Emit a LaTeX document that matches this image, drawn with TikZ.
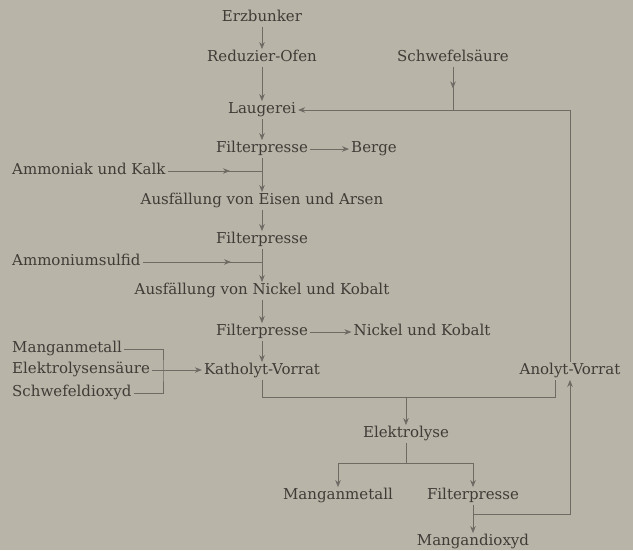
\documentclass[tikz,border=0pt]{standalone}
\usepackage{fontspec}
\setmainfont{DejaVu Serif}
\usepackage{tikz}
\usetikzlibrary{
  arrows.meta,
  positioning,
  decorations.markings
}
\definecolor{PaperGrey}{HTML}{B9B4A8}
\definecolor{InkDark}{HTML}{403B36}
\definecolor{LineGrey}{HTML}{6F6A63}
\tikzset{
  % Stage / material label
  stage/.style={
    text=InkDark, inner sep=2pt,
    text height=10.5pt, text depth=3pt,
    font=\fontsize{15}{17}\selectfont
  },
  % Plain connector
  ln/.style={line width=0.7pt, draw=LineGrey},
  % Arrow
  arr/.style={
    -{Stealth[length=7pt,width=5.5pt]},
    line width=0.7pt, draw=LineGrey, color=LineGrey
  },
  % Line with arrow head in its course
  midarr/.style={
    ln, postaction={decorate},
    decoration={markings,
      mark=at position #1 with {\arrow[LineGrey]{Stealth[length=7pt,width=5.5pt]}}}
  }
}

\begin{document}
\begin{tikzpicture}[x=1pt, y=-1pt, on grid]
  \fill[PaperGrey] (0,0) rectangle (633,550);
  \useasboundingbox (0,0) rectangle (633,550);

  % Main line of the process
  \node[stage] (erz) at (262,18) {Erzbunker};
  \node[stage, below=40pt of erz]   (ofen)  {Reduzier-Ofen};
  \node[stage, below=52pt of ofen]  (laug)  {Laugerei};
  \node[stage, below=39pt of laug]  (fpa)   {Filterpresse};
  \node[stage, below=52pt of fpa]   (eisen) {Ausfällung von Eisen und Arsen};
  \node[stage, below=39pt of eisen] (fpb)   {Filterpresse};
  \node[stage, below=51pt of fpb]   (nick)  {Ausfällung von Nickel und Kobalt};
  \node[stage, below=41pt of nick]  (fpc)   {Filterpresse};
  \node[stage, below=39pt of fpc]   (kath)  {Katholyt-Vorrat};

  % Side products and additions
  \node[stage] (schw) at (453,58) {Schwefelsäure};
  \node[stage, right=112pt of fpa]  (berge) {Berge};
  \node[stage, right=160pt of fpc]  (nico)  {Nickel und Kobalt};
  \node[stage, right=308pt of kath] (anol)  {Anolyt-Vorrat};
  \node[stage, anchor=west] (ammo)   at (10,171) {Ammoniak und Kalk};
  \node[stage, anchor=west] (sulf)   at (10,262) {Ammoniumsulfid};
  \node[stage, anchor=west] (mnin)   at (10,349) {Manganmetall};
  \node[stage, anchor=west] (saeure) at (10,370) {Elektrolysensäure};
  \node[stage, anchor=west] (sodiox) at (10,393) {Schwefeldioxyd};

  % Electrolysis
  \node[stage] (elyse) at (406,434) {Elektrolyse};
  \node[stage] (mnout) at (338,496) {Manganmetall};
  \node[stage] (fpd)   at (473,496) {Filterpresse};
  \node[stage, below=46pt of fpd] (mno) {Mangandioxyd};

  \coordinate (brk)   at (163,370);
  \coordinate (ring)  at (555,397);
  \coordinate (gabel) at (406,463);
  \coordinate (rueck) at (473,514);

  \draw[arr] (erz)   -- (ofen);
  \draw[arr] (ofen)  -- (laug);
  \draw[arr] (laug)  -- (fpa);
  \draw[arr] (fpa)   -- (eisen);
  \draw[arr] (eisen) -- (fpb);
  \draw[arr] (fpb)   -- (nick);
  \draw[arr] (nick)  -- (fpc);
  \draw[arr] (fpc)   -- (kath);

  \draw[arr] (fpa) -- (berge);
  \draw[arr] (fpc) -- (nico);
  \draw[midarr=0.66] (ammo) -- (ammo -| fpa);
  \draw[midarr=0.74] (sulf) -- (sulf -| fpb);
  \draw[midarr=0.5]  (schw) -- (schw |- laug);
  \draw[arr] (anol) |- (laug);

  \draw[ln]  (mnin) -| (brk) |- (sodiox);
  \draw[ln]  (saeure) -- (brk);
  \draw[arr] (brk) -- (brk -| kath.west);

  \draw[ln]  (kath) |- (ring) -- (ring |- anol.south);
  \draw[arr] (elyse |- ring) -- (elyse);
  \draw[ln]  (elyse) -- (gabel);
  \draw[arr] (gabel) -| (mnout);
  \draw[arr] (gabel) -| (fpd);
  \draw[arr] (fpd) -- (mno);
  \draw[arr] (rueck) -| (anol);
\end{tikzpicture}
\end{document}
